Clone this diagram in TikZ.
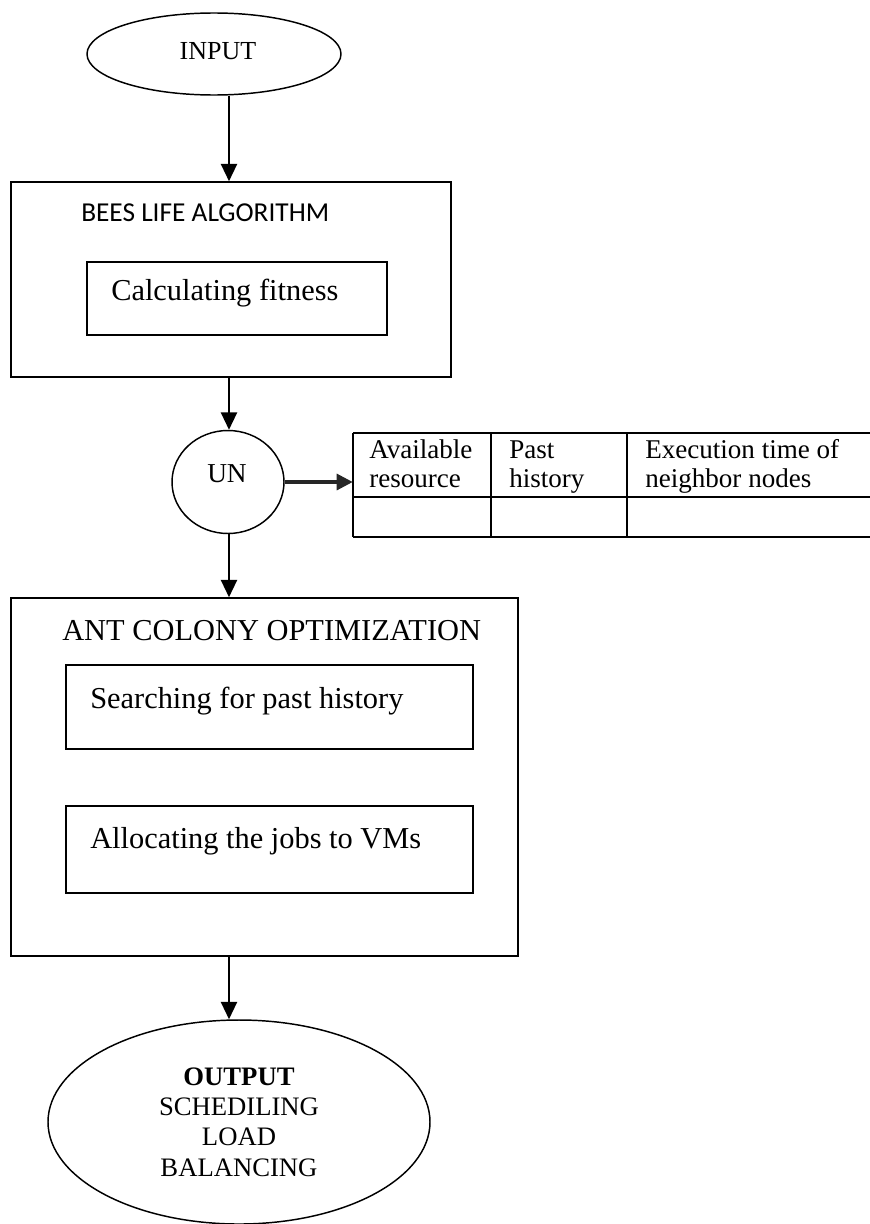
\documentclass[tikz,border=0pt]{standalone}
\usepackage{fontspec}
\setmainfont{Liberation Serif}
\newfontfamily\calibrifont{Carlito}
\usetikzlibrary{shapes.geometric,arrows.meta}
\begin{document}
\begin{tikzpicture}[x=0.75pt,y=-0.75pt,
  box/.style={draw,line width=1.1pt,rectangle,inner sep=0pt},
  oval/.style={draw,line width=1.1pt,ellipse,inner sep=0pt},
  txt/.style={inner sep=0pt,anchor=base west,font=\fontsize{22.8}{27}\selectfont},
  cell/.style={inner sep=0pt,anchor=base west,font=\fontsize{20.3}{22}\selectfont},
  arr/.style={line width=1.6pt,-{Triangle[length=13pt,width=12pt]}},
  sidearr/.style={line width=2.3pt,black!85,-{Triangle[length=12pt,width=12pt]}},
  tline/.style={line width=1pt}]
\useasboundingbox (0,0) rectangle (870,1224);
\coordinate (ax) at (229,0);

% INPUT
\node[oval,minimum width=190.5pt,minimum height=61.5pt] (input) at (214,54) {};
\node[inner sep=0pt,anchor=base,font=\fontsize{19.5}{23}\selectfont] (inputtxt) at (218,59) {INPUT};

% BEES LIFE ALGORITHM
\node[box,minimum width=330pt,minimum height=146.25pt] (bees) at (231,279.5) {};
\node[inner sep=0pt,anchor=base west,font=\calibrifont\fontsize{20.5}{24}\selectfont] (beestxt) at (81,221) {BEES LIFE ALGORITHM};
\node[box,minimum width=225pt,minimum height=54.75pt] (calc) at (237,298.5) {};
\node[txt] (calctxt) at (111,300) {Calculating fitness};

% UN
\node[oval,minimum width=84pt,minimum height=77.25pt] (un) at (228,482) {};
\node[inner sep=0pt,anchor=base,font=\fontsize{20.5}{24}\selectfont] (untxt) at (227,482) {UN};

% table
\node[inner sep=0pt,minimum width=387.75pt,minimum height=78pt] (table) at (611.5,485) {};
\draw[tline] (353,433) -- (870,433);
\draw[tline] (353,497) -- (870,497);
\draw[line width=2.2pt] (353,537) -- (870,537);
\draw[tline] (353,433) -- (353,537);
\draw[tline] (491,433) -- (491,537);
\draw[tline] (627,433) -- (627,537);
\node[cell] (c1a) at (369,458) {Available};
\node[cell] (c1b) at (369,487) {resource};
\node[cell] (c2a) at (509,458) {Past};
\node[cell] (c2b) at (509,487) {history};
\node[cell] (c3a) at (645,458) {Execution time of};
\node[cell] (c3b) at (645,487) {neighbor nodes};

% ACO
\node[box,minimum width=380.25pt,minimum height=268.5pt] (aco) at (264.5,777) {};
\node[txt] (acotxt) at (62,640) {ANT COLONY OPTIMIZATION};
\node[box,minimum width=305.25pt,minimum height=63pt] (search) at (269.5,707) {};
\node[txt] (searchtxt) at (90,708) {Searching for past history};
\node[box,minimum width=305.25pt,minimum height=65.25pt] (alloc) at (269.5,849.5) {};
\node[txt] (alloctxt) at (90,848) {Allocating the jobs to VMs};

% OUTPUT
\node[oval,minimum width=286.5pt,minimum height=153pt,align=center,
  font=\fontsize{20}{22.8}\selectfont] (output) at (239,1122)
  {\textbf{OUTPUT}\\SCHEDILING\\LOAD\\BALANCING};

% connectors
\draw[arr] (input.south -| ax) -- (bees.north -| ax);
\draw[arr] (bees.south -| ax) -- (un.north -| ax);
\draw[sidearr] (un.east) -- (un.east -| table.west);
\draw[arr] (un.south -| ax) -- (aco.north -| ax);
\draw[arr] (aco.south -| ax) -- (output.north -| ax);
\end{tikzpicture}
\end{document}
